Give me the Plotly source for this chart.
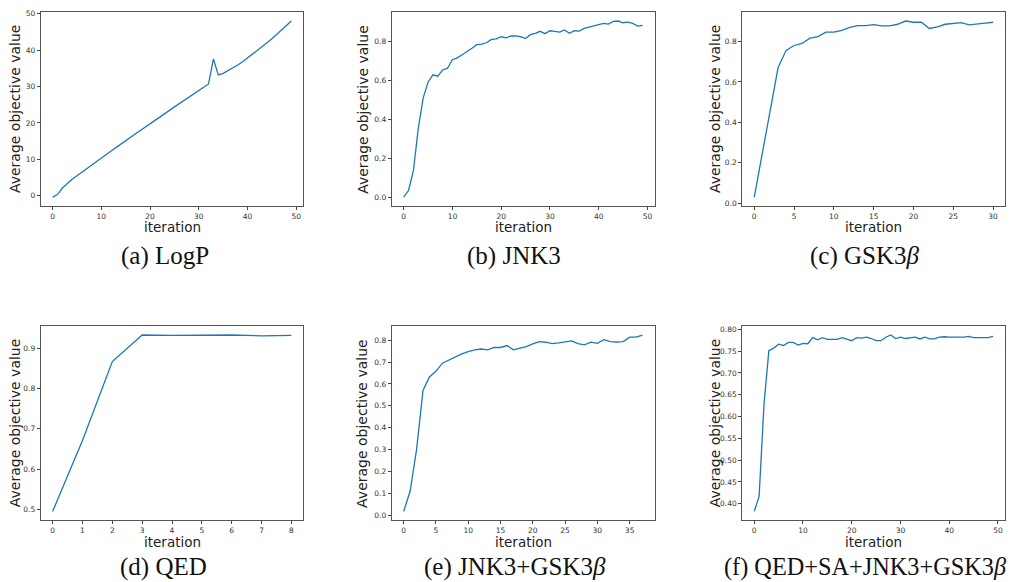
import plotly.graph_objects as go

# ---------------- data ----------------
logp_iter = list(range(50))
logp_vals = [-0.4, 0.3, 2.1, 3.4, 4.5, 5.5, 6.5, 7.5, 8.5, 9.5,
             10.4, 11.3, 12.3, 13.2, 14.2, 15.1, 16.0, 17.0, 17.9, 18.9,
             19.8, 20.7, 21.6, 22.6, 23.5, 24.4, 25.3, 26.2, 27.1, 28.0,
             28.9, 29.8, 30.7, 37.6, 33.2, 33.6, 34.3, 35.0, 35.9, 36.8,
             37.8, 38.8, 39.8, 40.9, 42.0, 43.1, 44.3, 45.5, 46.7, 48.0]

jnk3_iter = list(range(50))
jnk3_vals = [0.0, 0.034, 0.136, 0.354, 0.51, 0.592, 0.63, 0.623, 0.655, 0.664,
             0.708, 0.717, 0.733, 0.752, 0.767, 0.785, 0.788, 0.795, 0.812, 0.815,
             0.826, 0.82, 0.83, 0.83, 0.826, 0.817, 0.837, 0.844, 0.854, 0.842,
             0.857, 0.854, 0.85, 0.861, 0.844, 0.857, 0.855, 0.869, 0.876, 0.883,
             0.888, 0.895, 0.891, 0.905, 0.907, 0.898, 0.901, 0.895, 0.881, 0.885]

gsk3_iter = list(range(31))
gsk3_vals = [0.03, 0.25, 0.47, 0.671, 0.756, 0.78, 0.79, 0.816, 0.824, 0.846,
             0.846, 0.855, 0.87, 0.878, 0.878, 0.883, 0.877, 0.877, 0.885, 0.901,
             0.895, 0.895, 0.864, 0.872, 0.885, 0.89, 0.893, 0.882, 0.888, 0.891,
             0.895]

qed_iter = list(range(9))
qed_vals = [0.495, 0.671, 0.867, 0.933, 0.932, 0.933, 0.933, 0.931, 0.932]

jg_iter = list(range(38))
jg_vals = [0.017, 0.109, 0.30, 0.57, 0.632, 0.658, 0.695, 0.71, 0.726, 0.738,
           0.748, 0.756, 0.76, 0.756, 0.767, 0.767, 0.776, 0.756, 0.764, 0.771,
           0.783, 0.794, 0.791, 0.785, 0.788, 0.794, 0.797, 0.785, 0.779, 0.791,
           0.786, 0.803, 0.794, 0.792, 0.794, 0.814, 0.814, 0.824]

all_iter = list(range(50))
all_vals = [0.3825, 0.417, 0.628, 0.751, 0.757, 0.766, 0.763, 0.770, 0.770, 0.764,
            0.768, 0.767, 0.781, 0.776, 0.781, 0.777, 0.777, 0.777, 0.781, 0.777,
            0.774, 0.781, 0.780, 0.782, 0.779, 0.774, 0.774, 0.782, 0.787, 0.779,
            0.782, 0.779, 0.781, 0.782, 0.778, 0.782, 0.778, 0.778, 0.782, 0.783,
            0.782, 0.782, 0.782, 0.782, 0.784, 0.781, 0.781, 0.781, 0.781, 0.784]

captions = ["(a) LogP", "(b) JNK3", "(c) GSK3<i>β</i>",
            "(d) QED", "(e) JNK3+GSK3<i>β</i>", "(f) QED+SA+JNK3+GSK3<i>β</i>"]

x_ticks = [[0, 10, 20, 30, 40, 50], [0, 10, 20, 30, 40, 50], [0, 5, 10, 15, 20, 25, 30],
           [0, 1, 2, 3, 4, 5, 6, 7, 8], [0, 5, 10, 15, 20, 25, 30, 35], [0, 10, 20, 30, 40, 50]]
y_ticks = [[0, 10, 20, 30, 40, 50], [0.0, 0.2, 0.4, 0.6, 0.8], [0.0, 0.2, 0.4, 0.6, 0.8],
           [0.5, 0.6, 0.7, 0.8, 0.9], [0.0, 0.1, 0.2, 0.3, 0.4, 0.5, 0.6, 0.7, 0.8],
           [0.40, 0.45, 0.50, 0.55, 0.60, 0.65, 0.70, 0.75, 0.80]]
y_formats = ["d", ".1f", ".1f", ".1f", ".1f", ".2f"]

series = [(logp_iter, logp_vals), (jnk3_iter, jnk3_vals), (gsk3_iter, gsk3_vals),
          (qed_iter, qed_vals), (jg_iter, jg_vals), (all_iter, all_vals)]

# ---------------- layout geometry (pixels) ----------------
W, H = 1010, 582
col_px = [(40.7, 303.3), (391.7, 654.5), (742.3, 1005.0)]
row_px = [(9.3, 204.7), (326.0, 521.7)]
ylabel_x = [15, 362.7, 715]
xlabel_dy = 21.5
caption_y = [255, 569]
caption_x = [165, 514, 865, 163, 515, 865]
caption_size = [25, 25, 25, 25, 25, 24.3]

def rng(vals, m=0.05):
    lo, hi = min(vals), max(vals)
    d = (hi - lo) * m
    return [lo - d, hi + d]

fig = go.Figure()
annotations = []
layout = {}
for i, (xs, ys) in enumerate(series):
    r, c = divmod(i, 3)
    n = "" if i == 0 else str(i + 1)
    fig.add_trace(go.Scatter(x=xs, y=ys, mode="lines",
                             line=dict(color="#1f77b4", width=1.3),
                             xaxis="x" + n, yaxis="y" + n, showlegend=False,
                             hoverinfo="skip"))
    x0, x1 = col_px[c]
    y0, y1 = row_px[r]
    common = dict(showline=True, linecolor="#555", linewidth=1, mirror=True,
                  ticks="outside", ticklen=3, tickwidth=0.8, tickcolor="#444",
                  showgrid=False, zeroline=False,
                  tickfont=dict(family="DejaVu Sans", size=7.5, color="#333"))
    layout["xaxis" + n] = dict(domain=[x0 / W, x1 / W], anchor="y" + n,
                               range=rng(xs), tickvals=x_ticks[i], **common)
    layout["yaxis" + n] = dict(domain=[1 - y1 / H, 1 - y0 / H], anchor="x" + n,
                               range=rng(ys), tickvals=y_ticks[i],
                               tickformat=y_formats[i], **common)
    cx = (x0 + x1) / 2
    cy = (y0 + y1) / 2
    annotations.append(dict(text="Average objective value", x=ylabel_x[c] / W,
                            y=1 - cy / H, xref="paper", yref="paper",
                            textangle=-90, showarrow=False,
                            xanchor="center", yanchor="middle",
                            font=dict(family="DejaVu Sans", size=14, color="#222")))
    annotations.append(dict(text="iteration", x=cx / W, y=1 - (y1 + xlabel_dy) / H,
                            xref="paper", yref="paper", showarrow=False,
                            xanchor="center", yanchor="middle",
                            font=dict(family="DejaVu Sans", size=13.5, color="#222")))
    annotations.append(dict(text=captions[i], x=caption_x[i] / W, y=1 - caption_y[r] / H,
                            xref="paper", yref="paper", showarrow=False,
                            xanchor="center", yanchor="middle",
                            font=dict(family="Liberation Serif", size=caption_size[i],
                                      color="#111")))

fig.update_layout(width=W, height=H, margin=dict(l=0, r=0, t=0, b=0),
                  paper_bgcolor="white", plot_bgcolor="white",
                  annotations=annotations, **layout)

fig.write_html("out.html", config={"displayModeBar": False},
               post_script="document.body.style.margin='0px';document.body.style.overflow='hidden';")
